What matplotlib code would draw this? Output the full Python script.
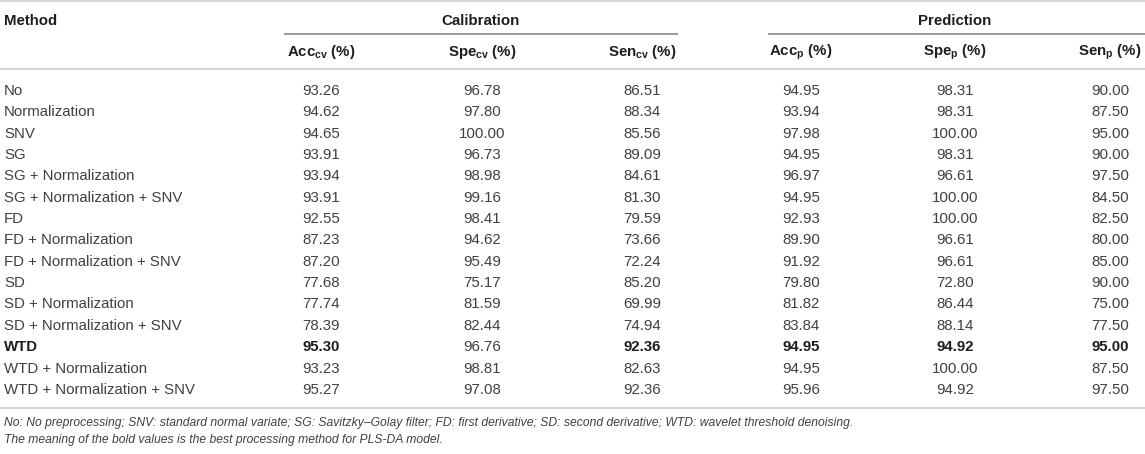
import matplotlib
matplotlib.use("Agg")
import matplotlib.pyplot as plt

plt.rcParams['font.family'] = ['Liberation Sans', 'DejaVu Sans']
plt.rcParams['mathtext.fontset'] = 'custom'
plt.rcParams['mathtext.rm'] = 'Liberation Sans'
plt.rcParams['mathtext.bf'] = 'Liberation Sans:bold'

# table content
methods = ["No", "Normalization", "SNV", "SG", "SG + Normalization",
           "SG + Normalization + SNV", "FD", "FD + Normalization",
           "FD + Normalization + SNV", "SD", "SD + Normalization",
           "SD + Normalization + SNV", "WTD", "WTD + Normalization",
           "WTD + Normalization + SNV"]
acc_cv = ["93.26", "94.62", "94.65", "93.91", "93.94", "93.91", "92.55", "87.23",
          "87.20", "77.68", "77.74", "78.39", "95.30", "93.23", "95.27"]
spe_cv = ["96.78", "97.80", "100.00", "96.73", "98.98", "99.16", "98.41", "94.62",
          "95.49", "75.17", "81.59", "82.44", "96.76", "98.81", "97.08"]
sen_cv = ["86.51", "88.34", "85.56", "89.09", "84.61", "81.30", "79.59", "73.66",
          "72.24", "85.20", "69.99", "74.94", "92.36", "82.63", "92.36"]
acc_p = ["94.95", "93.94", "97.98", "94.95", "96.97", "94.95", "92.93", "89.90",
         "91.92", "79.80", "81.82", "83.84", "94.95", "94.95", "95.96"]
spe_p = ["98.31", "98.31", "100.00", "98.31", "96.61", "100.00", "100.00", "96.61",
         "96.61", "72.80", "86.44", "88.14", "94.92", "100.00", "94.92"]
sen_p = ["90.00", "87.50", "95.00", "90.00", "97.50", "84.50", "82.50", "80.00",
         "85.00", "90.00", "75.00", "77.50", "95.00", "87.50", "97.50"]
col_headers = [r"Acc$_{\mathbf{cv}}$ (%)", r"Spe$_{\mathbf{cv}}$ (%)", r"Sen$_{\mathbf{cv}}$ (%)",
               r"Acc$_{\mathbf{p}}$ (%)", r"Spe$_{\mathbf{p}}$ (%)", r"Sen$_{\mathbf{p}}$ (%)"]
# cells shown in bold: (row, column) with column 0 = method
bold_cells = [(12, 0), (12, 1), (12, 3), (12, 4), (12, 5), (12, 6)]
footnotes = ["No: No preprocessing; SNV: standard normal variate; SG: Savitzky\u2013Golay filter; "
             "FD: first derivative; SD: second derivative; WTD: wavelet threshold denoising.",
             "The meaning of the bold values is the best processing method for PLS-DA model."]

# layout (pixels)
W, H = 1145, 454
col_x = [321, 482, 642, 801, 955, 1110]
row_y0, row_dy = 91, 21.35
fs = 10.8
txt_col = "#404040"
head_col = "#1e1e1e"

fig = plt.figure(figsize=(W / 100, H / 100), dpi=100)
ax = fig.add_axes([0, 0, 1, 1])
ax.set_xlim(0, W)
ax.set_ylim(H, 0)
ax.axis("off")

# rules
ax.hlines(1, 0, W, color="#d4d4d4", lw=1.6)
ax.hlines(34, 284, 678, color="#8a8a8a", lw=1.2)
ax.hlines(34, 768, W, color="#8a8a8a", lw=1.2)
ax.hlines(69, 0, W, color="#d8d8d8", lw=1.6)
ax.hlines(408, 0, W, color="#d8d8d8", lw=1.6)

# header
ax.text(4, 21, "Method", fontsize=fs, fontweight="bold", color=head_col, va="center", ha="left")
ax.text(481, 21, "Calibration", fontsize=fs, fontweight="bold", color=head_col, va="center", ha="center")
ax.text(955, 21, "Prediction", fontsize=fs, fontweight="bold", color=head_col, va="center", ha="center")
for x, h in zip(col_x, col_headers):
    ax.text(x, 52, h, fontsize=fs, fontweight="bold", color=head_col, va="center", ha="center")

# body
columns = [acc_cv, spe_cv, sen_cv, acc_p, spe_p, sen_p]
for i, m in enumerate(methods):
    y = row_y0 + i * row_dy
    b = (i, 0) in bold_cells
    ax.text(4, y, m, fontsize=fs, color=head_col if b else txt_col,
            fontweight="bold" if b else "normal", va="center", ha="left")
    for j, col in enumerate(columns):
        b = (i, j + 1) in bold_cells
        ax.text(col_x[j], y, col[i], fontsize=fs, color=head_col if b else txt_col,
                fontweight="bold" if b else "normal", va="center", ha="center")

# notes
for k, note in enumerate(footnotes):
    ax.text(4, 423 + k * 17, note, fontsize=8.7, style="italic", color=txt_col, va="center", ha="left")

fig.savefig("out.png", dpi=100)
